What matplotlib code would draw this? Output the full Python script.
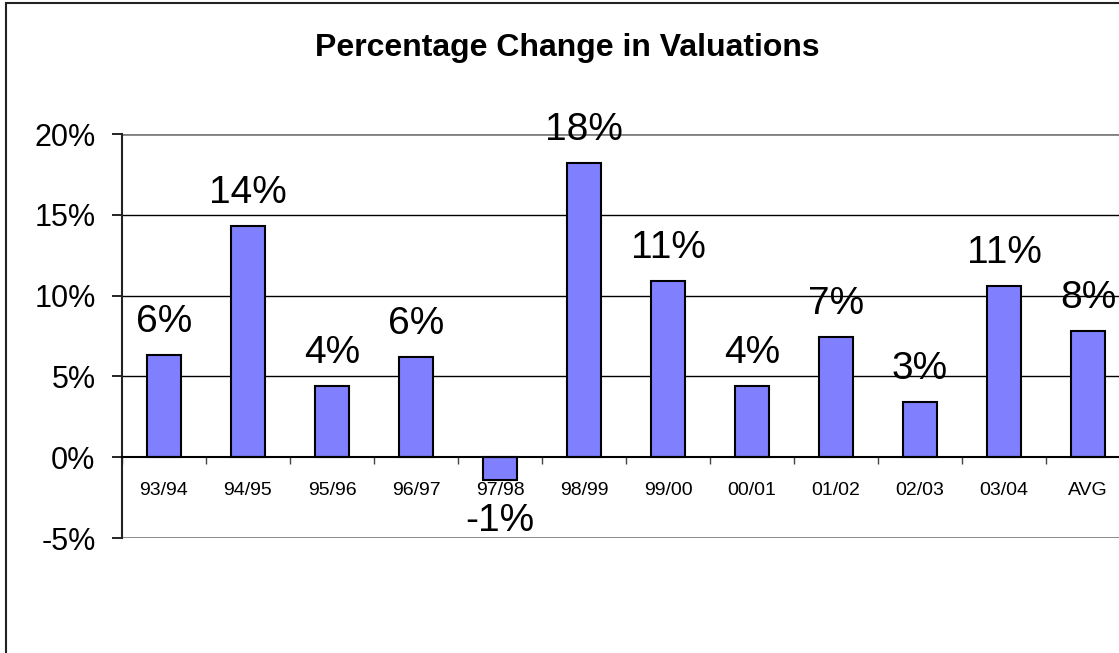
import matplotlib.pyplot as plt
from matplotlib.patches import Rectangle
import numpy as np

# Data
periods = ['93/94', '94/95', '95/96', '96/97', '97/98', '98/99',
           '99/00', '00/01', '01/02', '02/03', '03/04', 'AVG']
change = [0.063, 0.143, 0.044, 0.062, -0.014, 0.182,
          0.109, 0.044, 0.0745, 0.034, 0.106, 0.078]
yticks = [-0.05, 0.0, 0.05, 0.10, 0.15, 0.20]

plt.rcParams['font.family'] = ['Liberation Sans', 'DejaVu Sans']

W, H = 1119, 653
fig = plt.figure(figsize=(W / 100, H / 100), dpi=100)

# chart border (cut off at right and bottom like the reference)
fig.patches.append(Rectangle((6 / W, -0.1), 1.2, 1.1 - 3 / H, transform=fig.transFigure,
                             fill=False, edgecolor='#222222', linewidth=1.5))

ax = fig.add_axes([122 / W, (H - 538) / H, (1130 - 122) / W, (538 - 134) / H])
x = np.arange(len(periods))

ax.bar(x, change, width=0.41, color='#8080FF', edgecolor='black', linewidth=1.5, zorder=3)

ax.set_xlim(-0.5, len(periods) - 0.5)
ax.set_ylim(-0.05, 0.20)

# gridlines and plot borders
for g in [0.05, 0.10, 0.15]:
    ax.axhline(g, color='black', linewidth=1, zorder=1)
ax.axhline(0.20, color='#808080', linewidth=2, zorder=1)
ax.axhline(-0.05, color='#808080', linewidth=2, zorder=1)

for s in ['top', 'right']:
    ax.spines[s].set_visible(False)
ax.spines['left'].set_linewidth(1.5)
ax.spines['left'].set_color('#222222')
ax.spines['bottom'].set_position(('data', 0))
ax.spines['bottom'].set_linewidth(1.5)
ax.spines['bottom'].set_zorder(4)

ax.set_yticks(yticks)
ax.set_yticklabels(['%d%%' % round(t * 100) for t in yticks], fontsize=22)
ax.tick_params(axis='y', length=7, width=1.2, pad=12)

ax.set_xticks(x)
ax.set_xticklabels(periods, fontsize=14)
ax.set_xticks(np.arange(len(periods) + 1) - 0.5, minor=True)
ax.tick_params(axis='x', which='major', length=0, pad=18)
ax.tick_params(axis='x', which='minor', length=5, width=1, color='#444444')

for i, v in enumerate(change):
    if v >= 0:
        ax.annotate('%d%%' % round(v * 100), (i, v), xytext=(0, 11), textcoords='offset points',
                    ha='center', va='bottom', fontsize=28)
    else:
        ax.annotate('%d%%' % round(v * 100), (i, v), xytext=(0, -17), textcoords='offset points',
                    ha='center', va='top', fontsize=28)

fig.text(567 / W, 1 - 48 / H, 'Percentage Change in Valuations', ha='center', va='center',
         fontsize=23, fontweight='bold')

fig.savefig('out.png', dpi=100)
